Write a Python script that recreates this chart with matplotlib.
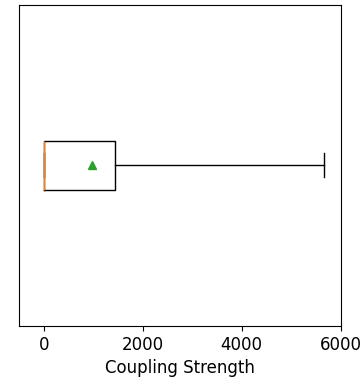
import numpy as np
import matplotlib
matplotlib.use('Agg')
import matplotlib.pyplot as plt

# summary statistics of the coupling strengths
whisker_low = 0.0
q1 = 0.0
median = 0.0
q3 = 1434.0
whisker_high = 5657.0
mean = 982.0

stats = [dict(whislo=whisker_low, q1=q1, med=median, q3=q3,
              whishi=whisker_high, mean=mean, fliers=[], label='')]

fig, ax = plt.subplots(figsize=(3.63, 3.77), dpi=100)
fig.subplots_adjust(left=0.0515, right=0.9386, top=0.987, bottom=0.1353)

ax.bxp(stats, vert=False, showmeans=True, showfliers=False, widths=0.15)
ax.set_xlim(-505, 6000)
ax.set_yticks([])
ax.set_xticks([0, 2000, 4000, 6000])
ax.tick_params(axis='x', labelsize=12)
ax.set_xlabel('Coupling Strength', fontsize=12)

plt.savefig('out.png', dpi=100)
